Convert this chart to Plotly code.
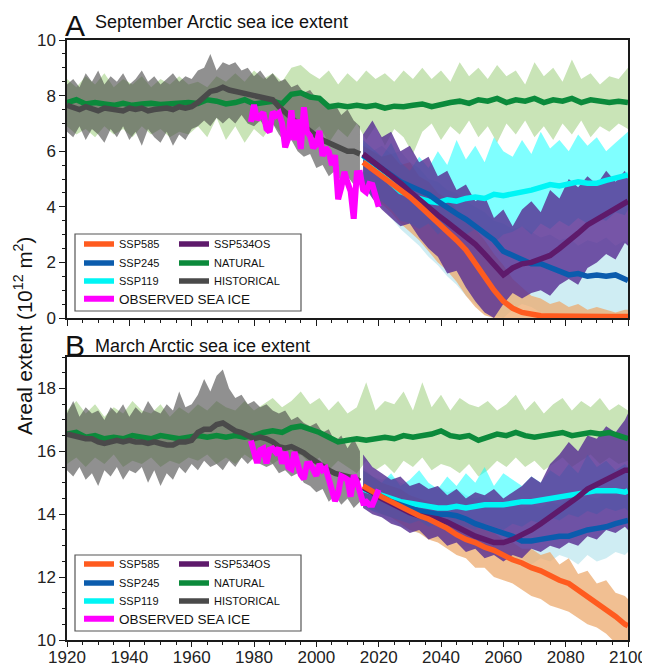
import plotly.graph_objects as go

# ---------------- years ----------------
NAT_YEARS = list(range(1920, 2101, 3))          # 61
HIST_YEARS = list(range(1920, 2015, 2))         # 48
OBS_YEARS = list(range(1979, 2021))             # 42
SSP_YEARS = list(range(2015, 2100, 3)) + [2100] # 30

# ================= Panel A : September =================
nat_mean_A = [7.75, 7.85, 7.7, 7.75, 7.7, 7.65, 7.72, 7.65, 7.7, 7.72,
              7.68, 7.7, 7.7, 7.75, 7.72, 7.85, 7.8, 7.7, 7.75, 7.85,
              7.7, 7.75, 7.8, 7.7, 8.05, 8.1, 7.95, 7.9, 7.6, 7.65,
              7.6, 7.65, 7.6, 7.65, 7.55, 7.62, 7.6, 7.65, 7.7, 7.6,
              7.7, 7.75, 7.8, 7.72, 7.85, 7.8, 7.9, 7.75, 7.85, 7.8,
              7.9, 7.75, 7.85, 7.8, 7.9, 7.75, 7.85, 7.8, 7.75, 7.8,
              7.75]
nat_lo_A = [6.9, 6.6, 6.8, 6.5, 6.9, 6.6, 6.8, 6.5, 6.9, 6.6,
            6.8, 6.5, 6.7, 6.6, 6.9, 6.5, 7.2, 6.4, 6.9, 6.3,
            6.8, 6.5, 7.0, 6.6, 6.8, 7.0, 6.6, 6.9, 6.3, 6.8,
            6.5, 7.0, 6.4, 6.9, 6.2, 6.8, 6.5, 5.9, 6.7, 7.0,
            6.4, 6.9, 6.6, 7.1, 6.5, 6.9, 6.3, 7.0, 6.6, 7.1,
            6.5, 6.9, 6.4, 7.0, 6.6, 7.1, 6.5, 6.9, 6.7, 7.0,
            6.8]
nat_hi_A = [8.6, 8.3, 8.7, 8.4, 8.8, 8.3, 8.6, 8.4, 8.7, 8.3,
            8.6, 8.4, 8.7, 8.4, 8.5, 8.3, 8.7, 8.5, 8.8, 8.5,
            8.9, 8.6, 8.8, 8.5, 9.0, 9.1, 8.8, 8.6, 8.9, 8.4,
            8.8, 8.5, 8.9, 8.6, 8.8, 8.5, 8.9, 8.6, 9.0, 8.6,
            8.9, 8.5, 9.2, 8.7, 9.0, 8.6, 9.1, 8.7, 8.9, 8.4,
            9.2, 8.7, 9.0, 8.5, 9.3, 8.6, 8.8, 8.4, 8.7, 8.6,
            9.0]

hist_mean_A = [7.65, 7.55, 7.5, 7.6, 7.5, 7.45, 7.55, 7.5, 7.5, 7.45,
               7.55, 7.5, 7.55, 7.45, 7.5, 7.55, 7.55, 7.5, 7.6, 7.55,
               7.6, 7.75, 7.95, 8.15, 8.2, 8.3, 8.2, 8.15, 8.1, 8.05,
               8.05, 8.0, 7.95, 7.85, 7.6, 7.4, 7.15, 7.0, 6.9, 6.7,
               6.55, 6.4, 6.3, 6.2, 6.15, 6.0, 6.0, 5.9]
hist_lo_A = [6.7, 6.5, 6.9, 6.4, 6.8, 6.6, 6.3, 6.8, 6.5, 6.9,
             6.4, 6.7, 6.2, 6.8, 6.5, 6.3, 6.7, 6.2, 6.6, 6.4,
             6.8, 6.9, 7.1, 6.9, 7.2, 7.0, 7.2, 7.0, 7.3, 7.0,
             6.9, 7.1, 6.8, 7.0, 6.6, 6.3, 6.4, 6.0, 5.8, 5.9,
             5.4, 5.5, 5.1, 5.3, 4.9, 5.1, 4.8, 5.2]
hist_hi_A = [8.4, 8.6, 8.3, 8.8, 8.5, 8.9, 8.4, 8.7, 8.5, 8.8,
             8.4, 8.6, 8.9, 8.5, 8.7, 8.4, 8.6, 8.8, 8.5, 8.7,
             8.6, 8.9, 9.0, 9.5, 8.9, 9.2, 9.1, 9.2, 8.9, 9.0,
             8.7, 8.9, 8.6, 8.8, 8.5, 8.6, 8.3, 8.4, 8.1, 8.2,
             7.9, 7.8, 7.6, 7.7, 7.3, 7.5, 7.1, 6.9]

obs_A = [7.05, 7.67, 7.14, 7.30, 7.39, 6.81, 6.70, 7.41, 7.28, 7.37,
         7.01, 6.14, 6.47, 7.47, 6.40, 7.14, 6.08, 7.58, 6.69, 6.54,
         6.12, 6.25, 6.73, 5.83, 6.12, 5.98, 5.50, 5.86, 4.27, 4.69,
         5.26, 4.87, 4.56, 3.57, 5.21, 5.22, 4.62, 4.53, 4.82, 4.79,
         4.36, 4.00]

ssp585_A = [5.6, 5.35, 5.15, 4.85, 4.6, 4.35, 4.05, 3.75, 3.45, 3.1,
            2.8, 2.45, 1.95, 1.5, 1.0, 0.6, 0.35, 0.2, 0.12, 0.08,
            0.07, 0.06, 0.05, 0.05, 0.05, 0.05, 0.05, 0.05, 0.05, 0.05]
ssp585_lo_A = [4.8, 4.5, 4.1, 3.8, 3.4, 3.1, 2.8, 2.4, 2.0, 1.7,
               1.3, 0.8, 0.4, 0.1, 0.0, 0.0, 0.0, 0.0, 0.0, 0.0,
               0.0, 0.0, 0.0, 0.0, 0.0, 0.0, 0.0, 0.0, 0.0, 0.0]
ssp585_hi_A = [6.2, 6.0, 5.8, 5.9, 5.5, 5.6, 5.1, 4.9, 4.5, 4.3,
               3.9, 3.6, 3.2, 2.8, 2.3, 1.9, 1.4, 1.1, 0.8, 0.7,
               0.5, 0.6, 0.4, 0.5, 0.3, 0.4, 0.3, 0.2, 0.3, 0.3]

ssp245_A = [5.85, 5.6, 5.35, 5.1, 4.9, 4.75, 4.6, 4.45, 4.2, 3.95,
            3.75, 3.55, 3.3, 3.05, 2.8, 2.4, 2.25, 2.05, 1.95, 1.95,
            1.8, 1.65, 1.55, 1.6, 1.5, 1.55, 1.5, 1.55, 1.4, 1.35]
ssp245_lo_A = [4.7, 4.4, 4.0, 3.6, 3.2, 2.9, 2.6, 2.2, 1.9, 1.5,
               1.2, 0.8, 0.5, 0.2, 0.1, 0.0, 0.3, 0.5, 0.4, 0.2,
               0.1, 0.0, 0.0, 0.0, 0.0, 0.0, 0.0, 0.0, 0.0, 0.0]
ssp245_hi_A = [6.3, 6.0, 6.2, 5.9, 6.0, 5.6, 5.4, 5.0, 4.9, 4.6,
               4.5, 4.2, 4.0, 3.8, 3.5, 3.4, 3.2, 3.3, 3.1, 2.9,
               3.0, 2.8, 2.9, 2.6, 2.8, 2.7, 2.9, 2.6, 2.8, 2.7]

ssp119_A = [5.85, 5.5, 5.25, 4.85, 4.55, 4.4, 4.3, 4.2, 4.15, 4.25,
            4.2, 4.3, 4.35, 4.3, 4.45, 4.4, 4.45, 4.55, 4.6, 4.7,
            4.8, 4.75, 4.85, 4.9, 4.85, 4.85, 4.95, 5.05, 5.1, 5.15]
ssp119_lo_A = [5.0, 4.4, 4.2, 3.9, 3.5, 3.4, 3.2, 3.4, 3.0, 3.3,
               3.1, 3.0, 3.2, 2.9, 2.7, 3.0, 3.1, 3.3, 3.0, 3.4,
               3.2, 3.5, 3.3, 3.6, 3.4, 3.6, 3.5, 3.8, 3.7, 3.9]
ssp119_hi_A = [6.4, 6.1, 5.8, 6.3, 5.6, 5.3, 5.8, 5.4, 6.0, 5.5,
               6.4, 5.7, 6.2, 5.6, 6.5, 6.0, 5.8, 6.4, 5.9, 6.7,
               6.1, 6.4, 6.0, 6.6, 6.2, 6.5, 6.0, 6.3, 6.6, 6.7]

ssp534_A = [5.9, 5.65, 5.4, 5.1, 4.85, 4.55, 4.25, 3.95, 3.7, 3.45,
            3.2, 2.95, 2.65, 2.3, 1.9, 1.55, 1.8, 1.95, 2.0, 2.1,
            2.25, 2.5, 2.75, 3.05, 3.35, 3.55, 3.7, 3.9, 4.1, 4.2]
ssp534_lo_A = [4.8, 4.3, 3.9, 3.6, 3.3, 3.4, 2.9, 2.5, 2.2, 1.6,
               1.7, 1.1, 0.6, 0.2, 0.0, 0.5, 0.9, 0.7, 0.9, 1.0,
               0.8, 1.2, 1.4, 1.2, 1.8, 2.0, 2.3, 2.1, 2.7, 2.6]
ssp534_hi_A = [6.6, 7.1, 6.5, 6.7, 6.0, 6.2, 5.6, 5.8, 5.1, 5.3,
               4.6, 4.8, 4.2, 4.4, 3.6, 3.9, 3.3, 3.9, 4.2, 3.8,
               4.6, 4.3, 5.0, 4.7, 5.1, 4.8, 5.3, 4.9, 5.3, 5.0]

# ================= Panel B : March =================
nat_mean_B = [16.55, 16.6, 16.45, 16.5, 16.4, 16.45, 16.4, 16.5, 16.45, 16.4,
              16.5, 16.45, 16.4, 16.45, 16.5, 16.45, 16.5, 16.45, 16.5, 16.45,
              16.5, 16.6, 16.65, 16.6, 16.75, 16.8, 16.7, 16.6, 16.45, 16.3,
              16.35, 16.4, 16.35, 16.4, 16.45, 16.4, 16.5, 16.45, 16.5, 16.55,
              16.65, 16.5, 16.45, 16.5, 16.35, 16.45, 16.55, 16.5, 16.6, 16.5,
              16.45, 16.5, 16.55, 16.6, 16.5, 16.55, 16.6, 16.55, 16.6, 16.5,
              16.4]
nat_lo_B = [15.6, 15.8, 15.5, 15.8, 15.6, 15.9, 15.5, 15.7, 15.6, 15.8,
            15.5, 15.7, 15.6, 15.8, 15.7, 15.9, 15.6, 15.8, 15.6, 15.9,
            15.7, 15.9, 15.6, 15.8, 15.7, 15.9, 15.6, 15.8, 15.4, 15.7,
            15.5, 15.3, 15.7, 15.4, 15.6, 15.3, 15.7, 15.5, 15.8, 15.4,
            15.6, 15.5, 15.3, 15.6, 15.2, 15.4, 15.7, 15.5, 15.8, 15.5,
            15.7, 15.4, 15.6, 15.8, 15.5, 15.7, 15.9, 15.6, 15.8, 15.6,
            15.7]
nat_hi_B = [17.3, 17.6, 17.2, 17.5, 17.1, 17.4, 17.2, 17.6, 17.3, 17.2,
            17.5, 17.1, 17.4, 17.2, 17.5, 17.3, 17.6, 17.4, 17.3, 17.6,
            17.3, 17.5, 17.7, 17.4, 17.6, 17.9, 17.5, 17.7, 17.3, 17.6,
            17.2, 17.4, 18.2, 17.3, 17.6, 17.5, 17.9, 17.3, 18.2, 17.4,
            17.8, 17.3, 17.7, 17.5, 17.4, 17.6, 17.3, 17.5, 17.8, 17.3,
            17.6, 17.2, 17.5, 17.7, 17.3, 17.6, 17.4, 17.7, 17.3, 17.5,
            17.3]

hist_mean_B = [16.55, 16.5, 16.45, 16.4, 16.4, 16.3, 16.25, 16.3, 16.35, 16.3,
               16.35, 16.3, 16.3, 16.25, 16.3, 16.25, 16.2, 16.2, 16.3, 16.3,
               16.35, 16.6, 16.7, 16.7, 16.85, 16.9, 16.75, 16.65, 16.6, 16.5,
               16.4, 16.45, 16.4, 16.3, 16.15, 16.1, 16.15, 16.05, 15.95, 15.8,
               15.65, 15.55, 15.4, 15.3, 15.25, 15.2, 15.15, 15.05]
hist_lo_B = [15.4, 15.2, 15.5, 15.1, 15.3, 14.9, 15.4, 15.2, 15.5, 15.1,
             15.4, 15.3, 15.5, 15.0, 15.4, 14.9, 15.3, 15.1, 15.5, 15.3,
             15.6, 15.4, 15.7, 15.5, 15.6, 15.4, 15.7, 15.5, 15.8, 15.6,
             15.8, 15.6, 15.5, 15.6, 15.3, 15.4, 15.2, 15.3, 15.0, 14.9,
             14.7, 14.8, 14.4, 14.6, 14.3, 14.5, 14.2, 14.4]
hist_hi_B = [17.2, 17.6, 17.1, 17.4, 17.2, 17.3, 17.0, 17.4, 17.2, 17.5,
             17.1, 17.4, 17.2, 17.6, 17.3, 17.2, 17.5, 17.3, 17.9, 17.4,
             17.5, 17.8, 18.3, 17.9, 18.4, 18.6, 18.0, 17.7, 17.8, 17.5,
             17.6, 17.4, 17.5, 17.3, 17.2, 17.3, 17.0, 17.1, 16.9, 16.8,
             16.9, 16.6, 16.7, 16.3, 16.5, 16.1, 16.4, 16.0]

obs_B = [16.34, 16.04, 15.63, 16.04, 16.09, 15.62, 16.05, 16.09, 15.97, 16.10,
         15.61, 15.98, 15.50, 15.44, 15.98, 15.59, 15.26, 15.12, 15.60, 15.61,
         15.40, 15.22, 15.60, 15.40, 15.46, 15.07, 14.74, 14.42, 14.66, 15.21,
         15.16, 15.10, 14.56, 15.24, 15.04, 14.76, 14.37, 14.40, 14.30, 14.30,
         14.55, 14.78]

ssp585_B = [14.9, 14.7, 14.55, 14.4, 14.25, 14.1, 13.95, 13.85, 13.7, 13.55,
            13.35, 13.2, 13.1, 12.95, 12.85, 12.7, 12.55, 12.45, 12.3, 12.2,
            12.05, 11.9, 11.8, 11.6, 11.4, 11.2, 11.0, 10.75, 10.5, 10.45]
ssp585_lo_B = [14.4, 14.2, 14.0, 13.9, 13.7, 13.5, 13.4, 13.2, 13.1, 12.9,
               12.7, 12.6, 12.3, 12.3, 12.0, 11.9, 11.8, 11.6, 11.4, 11.3,
               11.1, 11.0, 10.9, 10.7, 10.5, 10.4, 10.2, 9.9, 10.0, 9.8]
ssp585_hi_B = [15.4, 15.2, 15.0, 14.9, 14.8, 14.6, 14.5, 14.4, 14.2, 14.1,
               13.9, 13.8, 13.7, 13.5, 13.4, 13.2, 13.1, 12.9, 12.9, 12.7,
               12.8, 12.4, 12.6, 12.1, 12.2, 11.8, 11.9, 11.5, 11.4, 11.3]

ssp245_B = [14.85, 14.7, 14.55, 14.4, 14.3, 14.2, 14.1, 14.05, 14.0, 14.0,
            13.95, 13.85, 13.7, 13.6, 13.5, 13.4, 13.3, 13.15, 13.15, 13.2,
            13.25, 13.3, 13.3, 13.4, 13.5, 13.55, 13.6, 13.7, 13.75, 13.8]
ssp245_lo_B = [14.3, 14.1, 13.9, 13.8, 13.6, 13.5, 13.4, 13.3, 13.2, 13.2,
               13.1, 13.0, 12.9, 12.8, 12.7, 12.6, 12.5, 12.6, 12.4, 12.6,
               12.5, 12.7, 12.6, 12.4, 12.7, 12.5, 12.6, 12.8, 12.7, 12.8]
ssp245_hi_B = [15.5, 15.2, 15.1, 15.2, 15.0, 14.9, 15.0, 14.8, 14.9, 14.7,
               14.8, 14.6, 14.5, 14.6, 14.4, 14.3, 14.4, 14.2, 14.3, 14.2,
               14.4, 14.3, 14.5, 14.4, 14.6, 14.5, 14.7, 14.6, 14.8, 14.7]

ssp119_B = [14.8, 14.7, 14.6, 14.5, 14.4, 14.35, 14.3, 14.25, 14.2, 14.2,
            14.25, 14.2, 14.25, 14.3, 14.3, 14.3, 14.35, 14.4, 14.4, 14.45,
            14.5, 14.55, 14.6, 14.65, 14.7, 14.75, 14.75, 14.75, 14.7, 14.75]
ssp119_lo_B = [14.3, 14.1, 14.0, 13.9, 13.8, 13.7, 13.8, 13.6, 13.7, 13.5,
               13.7, 13.6, 13.5, 13.7, 13.6, 13.5, 13.7, 13.6, 13.8, 13.7,
               13.9, 13.8, 14.0, 13.9, 14.1, 14.0, 14.2, 14.1, 14.2, 14.1]
ssp119_hi_B = [15.4, 15.2, 15.0, 15.3, 14.9, 15.1, 15.4, 15.0, 14.8, 15.2,
               14.9, 15.3, 15.0, 15.5, 14.9, 15.3, 15.1, 14.9, 15.2, 15.0,
               15.4, 15.2, 15.6, 15.3, 15.9, 15.5, 15.7, 15.4, 15.6, 15.5]

ssp534_B = [14.85, 14.7, 14.5, 14.35, 14.2, 14.05, 13.95, 13.9, 13.85, 13.75,
            13.6, 13.45, 13.3, 13.2, 13.1, 13.1, 13.2, 13.35, 13.5, 13.7,
            13.9, 14.1, 14.35, 14.55, 14.8, 14.95, 15.1, 15.25, 15.4, 15.4]
ssp534_lo_B = [14.2, 14.0, 13.9, 13.7, 13.6, 13.4, 13.5, 13.2, 13.3, 13.0,
               13.1, 12.8, 12.9, 12.6, 12.7, 12.5, 12.7, 12.6, 12.9, 12.8,
               13.0, 12.9, 13.1, 13.0, 13.3, 13.2, 13.5, 13.4, 13.6, 13.5]
ssp534_hi_B = [15.9, 15.5, 15.3, 15.1, 15.2, 14.9, 15.0, 14.8, 14.9, 14.6,
               14.8, 14.5, 14.7, 14.6, 14.8, 14.5, 14.7, 14.9, 15.2, 15.0,
               15.6, 15.9, 16.3, 16.0, 16.5, 16.4, 16.8, 16.6, 17.0, 17.2]

# ---------------- styling ----------------
FONT = "Arial, 'Liberation Sans', sans-serif"
C_NAT_BAND = "rgb(201,228,183)"
C_HIST_BAND = "rgba(70,70,70,0.6)"
C_245_BAND = "rgba(160,220,232,0.5)"
C_585_BAND = "rgba(236,170,110,0.75)"
C_119_BAND = "rgba(0,255,255,0.5)"
C_534_BAND = "rgba(88,48,148,0.82)"

C_585 = "#ff5b1f"
C_245 = "#0b5cad"
C_119 = "#00f5f5"
C_534 = "#5e1a6b"
C_NAT = "#0b8a3b"
C_HIST = "#4a4a4a"
C_OBS = "#ff00ff"


def yfrac(px):
    return (640 - px) / 600.0


def xfrac(px):
    return (px - 67) / 561.0


fig = go.Figure()
legend_layouts = {}
leg_counter = [0]


def new_legend(xpx, ypx, size):
    leg_counter[0] += 1
    key = "legend" if leg_counter[0] == 1 else "legend%d" % leg_counter[0]
    legend_layouts[key] = dict(
        x=xfrac(xpx), y=yfrac(ypx), xanchor="left", yanchor="middle",
        orientation="v", bgcolor="rgba(0,0,0,0)", borderwidth=0, itemwidth=30,
        font=dict(family=FONT, size=size, color="#111"))
    return key


def band(x, lo, hi, color, xa, ya):
    fig.add_trace(go.Scatter(
        x=list(x) + list(x)[::-1], y=list(hi) + list(lo)[::-1],
        fill="toself", fillcolor=color, mode="lines", line=dict(width=0),
        hoverinfo="skip", showlegend=False, xaxis=xa, yaxis=ya))


def line(x, y, color, name, legend, xa, ya, width=5.5):
    fig.add_trace(go.Scatter(
        x=x, y=y, mode="lines", line=dict(color=color, width=width),
        name=name, legend=legend, xaxis=xa, yaxis=ya))


panels = [
    dict(xa="x", ya="y", rows=(244, 263, 281, 299),
         nat=(nat_mean_A, nat_lo_A, nat_hi_A), hist=(hist_mean_A, hist_lo_A, hist_hi_A),
         obs=obs_A,
         s585=(ssp585_A, ssp585_lo_A, ssp585_hi_A), s245=(ssp245_A, ssp245_lo_A, ssp245_hi_A),
         s119=(ssp119_A, ssp119_lo_A, ssp119_hi_A), s534=(ssp534_A, ssp534_lo_A, ssp534_hi_A)),
    dict(xa="x2", ya="y2", rows=(564, 583, 601, 619),
         nat=(nat_mean_B, nat_lo_B, nat_hi_B), hist=(hist_mean_B, hist_lo_B, hist_hi_B),
         obs=obs_B,
         s585=(ssp585_B, ssp585_lo_B, ssp585_hi_B), s245=(ssp245_B, ssp245_lo_B, ssp245_hi_B),
         s119=(ssp119_B, ssp119_lo_B, ssp119_hi_B), s534=(ssp534_B, ssp534_lo_B, ssp534_hi_B)),
]

XL, XR = 79, 174
for p in panels:
    xa, ya = p["xa"], p["ya"]
    r1, r2, r3, r4 = p["rows"]
    band(NAT_YEARS, p["nat"][1], p["nat"][2], C_NAT_BAND, xa, ya)
    band(HIST_YEARS, p["hist"][1], p["hist"][2], C_HIST_BAND, xa, ya)
    band(SSP_YEARS, p["s245"][1], p["s245"][2], C_245_BAND, xa, ya)
    band(SSP_YEARS, p["s585"][1], p["s585"][2], C_585_BAND, xa, ya)
    band(SSP_YEARS, p["s119"][1], p["s119"][2], C_119_BAND, xa, ya)
    band(SSP_YEARS, p["s534"][1], p["s534"][2], C_534_BAND, xa, ya)
    line(NAT_YEARS, p["nat"][0], C_NAT, "NATURAL", new_legend(XR, r2, 11), xa, ya)
    line(HIST_YEARS, p["hist"][0], C_HIST, "HISTORICAL", new_legend(XR, r3, 11), xa, ya)
    line(SSP_YEARS, p["s119"][0], C_119, "SSP119", new_legend(XL, r3, 11), xa, ya)
    line(SSP_YEARS, p["s245"][0], C_245, "SSP245", new_legend(XL, r2, 11), xa, ya)
    line(SSP_YEARS, p["s534"][0], C_534, "SSP534OS", new_legend(XR, r1, 11), xa, ya)
    line(SSP_YEARS, p["s585"][0], C_585, "SSP585", new_legend(XL, r1, 11), xa, ya)
    line(OBS_YEARS, p["obs"], C_OBS, "OBSERVED SEA ICE", new_legend(XL, r4, 13.5), xa, ya, width=6)

# ---------------- layout ----------------
axis_common = dict(showline=True, linecolor="#1a1a1a", linewidth=1.5, mirror=True,
                   ticks="outside", tickcolor="#1a1a1a", ticklen=6, tickwidth=1.2,
                   showgrid=False, zeroline=False, automargin=False,
                   tickfont=dict(family=FONT, size=17, color="#222"))

xcommon = dict(axis_common, range=[1920, 2100], tick0=1920, dtick=20,
               minor=dict(dtick=5, ticks="outside", ticklen=3, tickcolor="#1a1a1a", tickwidth=1))

# the page body adds an 8 px offset; the figure is sized so that the
# plot area lands where it is in the reference picture.
fig.update_layout(
    width=642, height=661,
    margin=dict(l=59, r=22, t=32, b=29, autoexpand=False),
    paper_bgcolor="white", plot_bgcolor="white",
    font=dict(family=FONT, color="#222"),
    xaxis=dict(xcommon, domain=[0, 1], anchor="y", showticklabels=False),
    yaxis=dict(axis_common, domain=[yfrac(318), 1.0], anchor="x", range=[0, 10], dtick=2,
               minor=dict(dtick=0.5, ticks="outside", ticklen=3, tickcolor="#1a1a1a", tickwidth=1)),
    xaxis2=dict(xcommon, domain=[0, 1], anchor="y2", ticklen=5, ticklabelstandoff=-4),
    yaxis2=dict(axis_common, domain=[0, yfrac(357)], anchor="x2", range=[10, 19], dtick=2,
                tick0=10,
                minor=dict(dtick=0.5, ticks="outside", ticklen=3, tickcolor="#1a1a1a", tickwidth=1)),
    showlegend=True,
    **legend_layouts,
)

# legend frames
for y0, y1 in [(311, 234), (631, 555)]:
    fig.add_shape(type="rect", xref="paper", yref="paper",
                  x0=xfrac(75), x1=xfrac(301), y0=yfrac(y0), y1=yfrac(y1),
                  line=dict(color="#555", width=1.2), fillcolor="rgba(0,0,0,0)", layer="above")

# panel titles
for letter, title, ly, ty in [("A", "September Arctic sea ice extent", 26, 22),
                              ("B", "March Arctic sea ice extent", 345, 346)]:
    fig.add_annotation(text=letter, xref="paper", yref="paper", x=xfrac(63), y=yfrac(ly),
                       xanchor="left", yanchor="middle", showarrow=False,
                       font=dict(family=FONT, size=30, color="#111"))
    fig.add_annotation(text=title, xref="paper", yref="paper", x=xfrac(93), y=yfrac(ty),
                       xanchor="left", yanchor="middle", showarrow=False,
                       font=dict(family=FONT, size=18, color="#111"))

# y axis title
fig.add_annotation(text="Areal extent (10<sup>12</sup> m<sup>2</sup>)", xref="paper", yref="paper",
                   x=xfrac(23), y=yfrac(336), xanchor="center", yanchor="middle",
                   textangle=-90, showarrow=False,
                   font=dict(family=FONT, size=20.5, color="#111"))

fig.write_html("out.html")
